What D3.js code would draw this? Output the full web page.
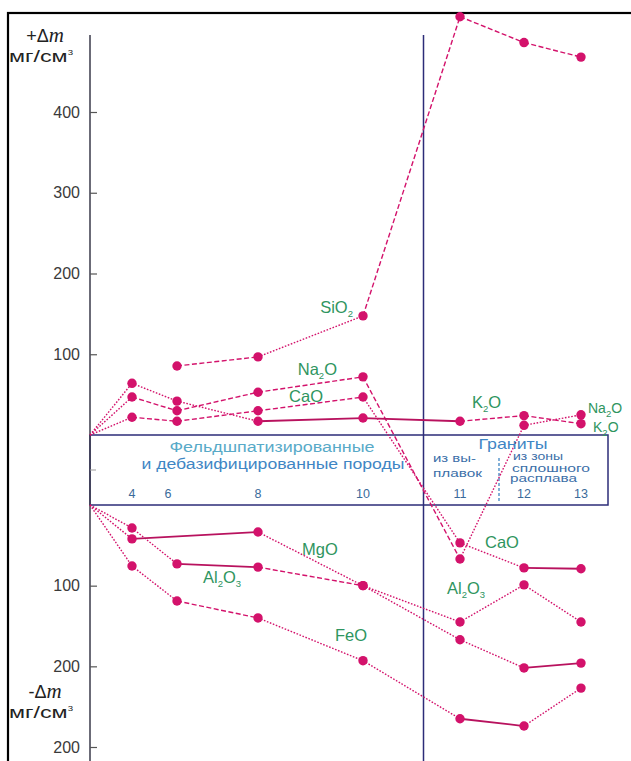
<!DOCTYPE html>
<html>
<head>
<meta charset="utf-8">
<script src="https://cdn.jsdelivr.net/npm/d3@7"></script>
<style>
  html, body { margin: 0; padding: 0; background: #fff; }
  svg { display: block; }
  text { font-family: "Liberation Sans", Arial, sans-serif; }
</style>
</head>
<body>
<svg id="chart" width="631" height="761"></svg>
<script>
// Sample numbers along the horizontal axis (4–10 feldspathized rocks, 11–13 granites)
const samples = [4, 6, 8, 10, 11, 12, 13];

// Mass change Δm, mg/cm³: positive = gain (upper panel), negative = loss (lower panel)
const sio2  = [null, 85.5, 96.7, 147.5, 518, 486, 468];
const na2o  = [47, 30, 53, 72, -67, 12, 25];
const k2o   = [64, 42, 17, 21, 17, 24, 14];
const cao   = [22, 17, 30, 47, -47, -78, -79];
const al2o3 = [-28.5, -73, -77, -100, -145, -99, -145];
const mgo   = [-42, null, -33.5, -100, -167, -202, -196];
const feo   = [-75.6, -119, -140, -193, -265, -274, -227];

// Axis ticks
const upperTicks = [100, 200, 300, 400];
const upperTickLabels = ["100", "200", "300", "400"];
const lowerTicks = [100, 200, 300];
const lowerTickLabels = ["100", "200", "200"];

const series = [
  { name: "SiO2",  values: sio2 },
  { name: "Na2O",  values: na2o },
  { name: "K2O",   values: k2o },
  { name: "CaO",   values: cao },
  { name: "Al2O3", values: al2o3 },
  { name: "MgO",   values: mgo },
  { name: "FeO",   values: feo }
];

// Segment line styles per series (o = dotted, d = dashed, s = solid), origin segment first
const segStyle = {
  SiO2:  "doddd",
  Na2O:  "oddddoood",
  K2O:   "ooossdd",
  CaO:   "odddoos",
  Al2O3: "oosdooo",
  MgO:   "osooos",
  FeO:   "oodooso"
};
const dashFor = { o: "1.6,1.6", d: "5,2.5", s: null };

const svg = d3.select("#chart");
const W = 631, H = 761;

const AXIS_X = 90;
const col = {
  mark: "#d3126b",
  label: "#2f9560",
  navy: "#2c2c78",
  axis: "#3a3a4a",
  blue: "#3f86c4",
  blueDark: "#3b6ea8"
};

// Horizontal scale: uneven sample spacing (0 = axis origin)
const x = d3.scaleLinear()
  .domain([0, 4, 6, 8, 10, 11, 12, 13])
  .range([AXIS_X, 132, 177, 258, 363, 460, 524, 581]);

// Two vertical scales: gains above the band, losses below it
const yUp = d3.scaleLinear().domain([0, 400]).range([435, 112]);
const yDown = d3.scaleLinear().domain([0, 300]).range([505, 747]);
const yOf = v => v >= 0 ? yUp(v) : yDown(-v);

// Frame
svg.append("rect")
  .attr("x", 8).attr("y", 13).attr("width", W + 10).attr("height", H + 10)
  .attr("fill", "none").attr("stroke", "#000").attr("stroke-width", 2.2);

// Sample band
svg.append("rect")
  .attr("x", AXIS_X).attr("y", yUp(0))
  .attr("width", 608 - AXIS_X).attr("height", yDown(0) - yUp(0))
  .attr("fill", "none").attr("stroke", col.navy).attr("stroke-width", 1.5);

// Divider between feldspathized rocks and granites
const divX = (x(10) + x(11)) / 2 + 12;
svg.append("line")
  .attr("x1", divX).attr("x2", divX).attr("y1", 35).attr("y2", H)
  .attr("stroke", col.navy).attr("stroke-width", 1.5);

// Dashed separator between granite groups
const sepX = (x(11) + x(12)) / 2 + 7;
svg.append("line")
  .attr("x1", sepX).attr("x2", sepX).attr("y1", 458).attr("y2", 503)
  .attr("stroke", col.blue).attr("stroke-width", 1.3).attr("stroke-dasharray", "3,2");

// Vertical axis
svg.append("line")
  .attr("x1", AXIS_X).attr("x2", AXIS_X).attr("y1", 35).attr("y2", H)
  .attr("stroke", col.axis).attr("stroke-width", 1.5);

const upAxis = d3.axisRight(yUp).tickValues(upperTicks).tickSize(7)
  .tickFormat((d, i) => upperTickLabels[i]);
const gUp = svg.append("g").attr("transform", `translate(${AXIS_X},0)`).call(upAxis);
const downAxis = d3.axisRight(yDown).tickValues(lowerTicks).tickSize(7)
  .tickFormat((d, i) => lowerTickLabels[i]);
const gDown = svg.append("g").attr("transform", `translate(${AXIS_X},0)`).call(downAxis);

[gUp, gDown].forEach(g => {
  g.select(".domain").remove();
  g.selectAll(".tick line").attr("stroke", "#555").attr("stroke-width", 1.2);
  g.selectAll(".tick text")
    .attr("x", -10).attr("text-anchor", "end")
    .attr("fill", "#3a3a3a").attr("font-size", 16)
    .attr("font-family", "Liberation Sans, Arial, sans-serif");
});
// small mid tick inside the band
svg.append("line")
  .attr("x1", AXIS_X).attr("x2", AXIS_X + 6)
  .attr("y1", (yUp(0) + yDown(0)) / 2).attr("y2", (yUp(0) + yDown(0)) / 2)
  .attr("stroke", "#999").attr("stroke-width", 1);

// Axis titles
function deltaTitle(sign, y0) {
  const t = svg.append("text").attr("x", 45).attr("y", y0)
    .attr("text-anchor", "middle").attr("font-size", 18).attr("fill", "#222");
  t.append("tspan").text(sign + "Δ");
  t.append("tspan").text("m").attr("font-style", "italic")
    .attr("font-family", "Liberation Serif, serif").attr("font-size", 21);
  const u = svg.append("text").attr("x", 41).attr("y", y0 + 20)
    .attr("text-anchor", "middle").attr("font-size", 17).attr("fill", "#222")
    .attr("textLength", 64).attr("lengthAdjust", "spacingAndGlyphs");
  u.append("tspan").text("мг/см");
  u.append("tspan").text("3").attr("font-size", 7).attr("dy", -7);
}
deltaTitle("+", 42);
deltaTitle("-", 698);

// Series lines, drawn segment by segment from the origin of their panel
const line = d3.line().x(d => d[0]).y(d => d[1]);
series.forEach(s => {
  const pts = [];
  s.values.forEach((v, i) => { if (v !== null) pts.push([x(samples[i]), yOf(v)]); });
  const firstIdx = s.values.findIndex(v => v !== null);
  if (firstIdx === 0) pts.unshift([x(0), s.values[0] >= 0 ? yUp(0) : yDown(0)]);
  const styles = segStyle[s.name];
  for (let k = 0; k < pts.length - 1; k++) {
    const st = styles[k] || "o";
    svg.append("path")
      .attr("d", line([pts[k], pts[k + 1]]))
      .attr("fill", "none")
      .attr("stroke", st === "s" ? "#b8125e" : col.mark)
      .attr("stroke-width", st === "s" ? 1.8 : 1.4)
      .attr("stroke-dasharray", dashFor[st]);
  }
});

// Points
series.forEach(s => {
  const data = s.values.map((v, i) => ({ s: samples[i], v })).filter(d => d.v !== null);
  svg.append("g").selectAll("circle").data(data).join("circle")
    .attr("cx", d => x(d.s)).attr("cy", d => yOf(d.v))
    .attr("r", 4.7).attr("fill", col.mark);
});

// Oxide labels: anchored to a data point with an offset
function formula(parts, px, py, anchor, size) {
  const t = svg.append("text").attr("x", px).attr("y", py)
    .attr("text-anchor", anchor || "start")
    .attr("font-size", size || 16.5).attr("fill", col.label);
  let afterSub = false;
  parts.forEach(p => {
    if (typeof p === "string") {
      t.append("tspan").text(p).attr("dy", afterSub ? -4 : null);
      afterSub = false;
    } else {
      t.append("tspan").text(p.sub).attr("font-size", 9.5).attr("dy", afterSub ? 0 : 4);
      afterSub = true;
    }
  });
}
formula(["SiO", { sub: "2" }], x(10) - 10, yOf(sio2[3]) - 3, "end");
formula(["Na", { sub: "2" }, "O"], x(10) - 26, yOf(na2o[3]) - 2, "end");
formula(["CaO"], x(10) - 40, yOf(cao[3]) + 5, "end");
formula(["K", { sub: "2" }, "O"], x(11) + 12, yOf(k2o[4]) - 13, "start");
formula(["Na", { sub: "2" }, "O"], x(13) + 7, yOf(na2o[6]) - 2, "start", 14);
formula(["K", { sub: "2" }, "O"], x(13) + 12, yOf(k2o[6]) + 8, "start", 14);
formula(["MgO"], x(8) + 44, yOf(mgo[2]) + 23, "start");
formula(["Al", { sub: "2" }, "O", { sub: "3" }], x(6) + 26, yOf(al2o3[1]) + 19, "start");
formula(["FeO"], x(10) + 4, yOf(feo[3]) - 20, "end");
formula(["CaO"], x(11) + 25, yOf(cao[4]) + 5, "start");
formula(["Al", { sub: "2" }, "O", { sub: "3" }], x(11) - 13, yOf(al2o3[4]) - 28, "start");

// Band captions (stretched to their printed width)
function caption(str, px, py, size, color, anchor, len) {
  const t = svg.append("text").attr("x", px).attr("y", py)
    .attr("text-anchor", anchor || "middle")
    .attr("font-size", size).attr("fill", color).text(str);
  if (len) t.attr("textLength", len).attr("lengthAdjust", "spacingAndGlyphs");
}
caption("Фельдшпатизированные", 272, 452, 14, "#58aac8", "middle", 205);
caption("и дебазифицированные породы", 273, 469, 14, col.blue, "middle", 263);
caption("Граниты", 513, 449, 14.5, col.blue, "middle", 69);
caption("из вы-", 433, 462, 11.5, col.blueDark, "start", 43);
caption("плавок", 433, 477, 11.5, col.blueDark, "start", 49);
caption("из зоны", 513, 460, 10, col.blueDark, "start", 50);
caption("сплошного", 512, 471.5, 10.5, col.blueDark, "start", 78);
caption("расплава", 510, 482, 10, col.blueDark, "start", 67);

// Sample numbers inside the band
samples.forEach(s => {
  caption(String(s), x(s) - (s === 6 ? 9 : 0), 498, 12.5, "#3a6a9a");
});
</script>
</body>
</html>
